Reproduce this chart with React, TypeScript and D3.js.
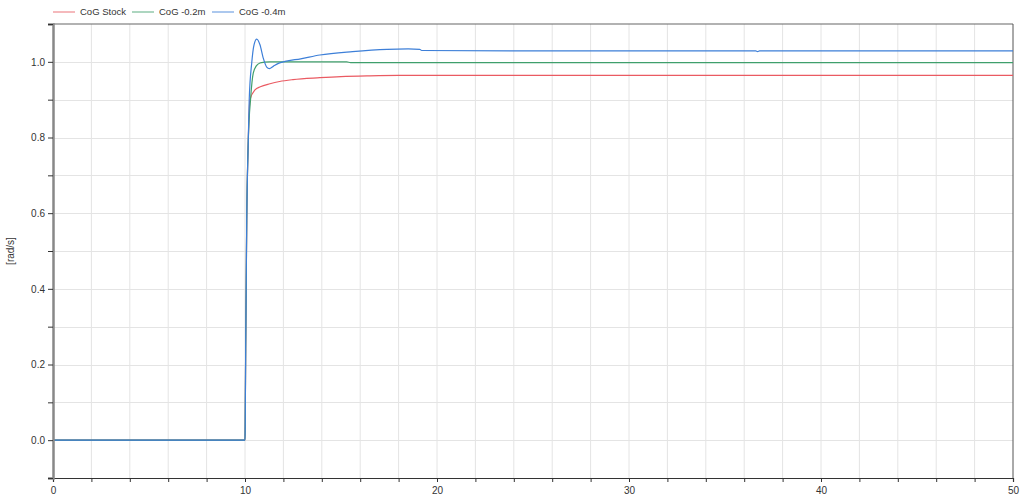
import { useEffect, useRef } from 'react'
import * as d3 from 'd3'

// time [s] and angular velocity [rad/s]
const stockTime = [0, 10, 10.01, 10.035, 10.09, 10.17, 10.26, 10.52, 10.8, 11.3, 11.8, 12.5, 13.9, 15, 16.5, 18, 20, 30, 40, 50]
const stockRate = [0, 0, 0.04, 0.24, 0.58, 0.79, 0.9, 0.926, 0.934, 0.942, 0.948, 0.953, 0.958, 0.961, 0.963, 0.964, 0.964, 0.964, 0.964, 0.964]

const lowTime = [0, 10, 10.01, 10.035, 10.09, 10.17, 10.3, 10.43, 10.6, 10.78, 11.0, 11.3, 15.3, 15.5, 20, 30, 40, 50]
const lowRate = [0, 0, 0.04, 0.24, 0.58, 0.79, 0.908, 0.97, 0.99, 0.997, 0.999, 1.0, 1.0, 0.998, 0.998, 0.998, 0.998, 0.998]

const lowerTime = [0, 10, 10.01, 10.035, 10.09, 10.17, 10.22, 10.35, 10.47, 10.61, 10.78, 10.95, 11.13, 11.27, 11.47, 11.74, 12.08, 12.9, 13.9, 15.6, 17.4, 18.5, 19.1, 19.2, 25, 36.6, 36.7, 36.8, 40, 50]
const lowerRate = [0, 0, 0.04, 0.24, 0.58, 0.79, 0.9, 0.997, 1.045, 1.06, 1.045, 1.01, 0.986, 0.982, 0.988, 0.996, 1.001, 1.008, 1.018, 1.027, 1.033, 1.034, 1.033, 1.03, 1.029, 1.029, 1.027, 1.029, 1.029, 1.029]

const seriesNames = ['CoG Stock', 'CoG -0.2m', 'CoG -0.4m']
const seriesColors = ['#ea5a62', '#3f9f6c', '#3d7fd8']

const xTicks = [0, 10, 20, 30, 40, 50]
const yTicks = [0, 0.2, 0.4, 0.6, 0.8, 1.0]

export default function App() {
  const svgRef = useRef<SVGSVGElement>(null)

  useEffect(() => {
    if (!svgRef.current) return
    const svg = d3.select(svgRef.current)
    svg.selectAll('*').remove()

    const width = 1024
    const height = 494
    const margin = { top: 24, right: 11, bottom: 16, left: 53 }

    const x = d3.scaleLinear().domain([0, 50]).range([margin.left, width - margin.right])
    const y = d3.scaleLinear().domain([-0.1, 1.1]).range([height - margin.bottom, margin.top])

    const font = '"Liberation Sans", Arial, sans-serif'

    // grid
    const grid = svg.append('g')
    d3.range(2, 50, 2).forEach(t => {
      grid.append('line')
        .attr('x1', x(t)).attr('x2', x(t))
        .attr('y1', y(1.1)).attr('y2', y(-0.1))
        .attr('stroke', '#e4e4e4').attr('stroke-width', 1)
    })
    d3.range(-0.0, 1.1, 0.1).forEach(v => {
      grid.append('line')
        .attr('x1', x(0)).attr('x2', x(50))
        .attr('y1', Math.round(y(v)) + 0.5).attr('y2', Math.round(y(v)) + 0.5)
        .attr('stroke', '#e4e4e4').attr('stroke-width', 1)
    })

    // frame
    svg.append('line')
      .attr('x1', x(0)).attr('x2', x(50)).attr('y1', y(1.1)).attr('y2', y(1.1))
      .attr('stroke', '#666').attr('stroke-width', 1.2)
    svg.append('line')
      .attr('x1', x(50)).attr('x2', x(50)).attr('y1', y(1.1)).attr('y2', y(-0.1))
      .attr('stroke', '#555').attr('stroke-width', 1)

    // series
    const line = d3.line<[number, number]>()
      .x(d => x(d[0]))
      .y(d => y(d[1]))
      .curve(d3.curveMonotoneX)

    const allSeries: [number, number][][] = [
      d3.zip(stockTime, stockRate) as [number, number][],
      d3.zip(lowTime, lowRate) as [number, number][],
      d3.zip(lowerTime, lowerRate) as [number, number][]
    ]

    allSeries.forEach((data, i) => {
      svg.append('path')
        .datum(data)
        .attr('fill', 'none')
        .attr('stroke', seriesColors[i])
        .attr('stroke-width', 1.2)
        .attr('d', line)
    })

    // axes
    const xAxis = d3.axisBottom(x)
      .tickValues(d3.range(0, 51, 2))
      .tickSize(4)
      .tickFormat(d => (xTicks.includes(+d) ? String(d) : ''))
    const gx = svg.append('g')
      .attr('transform', `translate(0, ${y(-0.1)})`)
      .call(xAxis)
    gx.select('.domain').attr('stroke', '#333').attr('stroke-width', 1.2)
    gx.selectAll('.tick line').attr('stroke', '#333')
    gx.selectAll('text').attr('font-family', font).attr('font-size', 10).attr('fill', '#333').attr('dy', '0.85em')

    const yAxis = d3.axisLeft(y)
      .tickValues(d3.range(-0.1, 1.11, 0.1).map(v => Math.round(v * 10) / 10))
      .tickSize(5)
      .tickFormat(d => (yTicks.some(t => Math.abs(t - +d) < 1e-6) ? d3.format('.1f')(+d) : ''))
    const gy = svg.append('g')
      .attr('transform', `translate(${x(0)}, 0)`)
      .call(yAxis)
    gy.select('.domain').attr('stroke', '#888').attr('stroke-width', 2.5)
    gy.selectAll('.tick line').attr('stroke', '#333')
    gy.selectAll('text').attr('font-family', font).attr('font-size', 10).attr('fill', '#333')

    // y label
    svg.append('text')
      .attr('transform', `translate(14, ${y(0.5)}) rotate(-90)`)
      .attr('text-anchor', 'middle')
      .attr('font-family', font)
      .attr('font-size', 10)
      .attr('fill', '#333')
      .text('[rad/s]')

    // legend
    const legendX = [53, 132, 212]
    seriesNames.forEach((name, i) => {
      const g = svg.append('g').attr('transform', `translate(${legendX[i]}, 12)`)
      g.append('line')
        .attr('x1', 0).attr('x2', 22).attr('y1', 0).attr('y2', 0)
        .attr('stroke', seriesColors[i]).attr('stroke-width', 1.2).attr('opacity', 0.7)
      g.append('text')
        .attr('x', 27).attr('y', 0)
        .attr('dy', '0.35em')
        .attr('font-family', font)
        .attr('font-size', 9.5)
        .attr('fill', '#333')
        .text(name)
    })
  }, [])

  return (
    <div style={{ position: 'absolute', left: 0, top: 0 }}>
      <svg ref={svgRef} width={1024} height={494} style={{ display: 'block', background: '#fff' }} />
    </div>
  )
}
